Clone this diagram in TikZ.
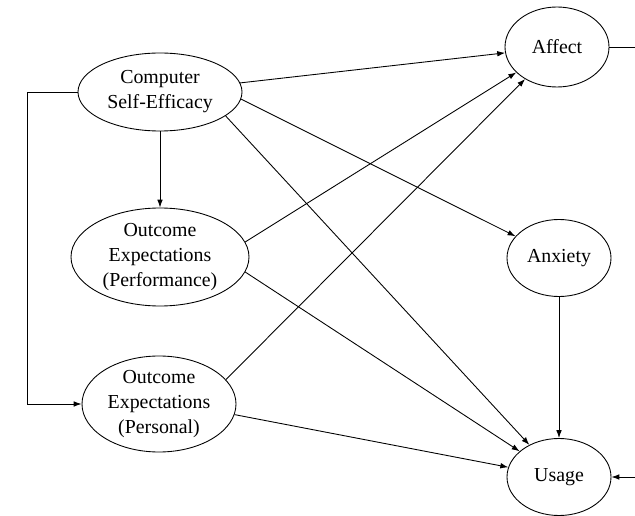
\documentclass[tikz,border=0pt]{standalone}
\usepackage{fontspec}
\setmainfont{Liberation Serif}
\usetikzlibrary{shapes.geometric,arrows.meta}
\begin{document}
\begin{tikzpicture}
                        [line width=0.5pt,
                        >={Latex[length=4.5pt,width=3.2pt]},
                        var/.style = {ellipse, draw, inner sep=0pt,
                                    align=center,
                                    font=\fontsize{11.3}{14.2}\selectfont}]
                        \useasboundingbox (0,0) rectangle (12.7,10.3);
                        \node[var,minimum width=3.28cm,minimum height=1.56cm] (CSE) at (3.2,8.46) {Computer\\Self-Efficacy};
                        \node[var,minimum width=3.56cm,minimum height=1.96cm] (Perf) at (3.2,5.16) {Outcome\\Expectations\\(Performance)};
                        \node[var,minimum width=3.08cm,minimum height=1.92cm] (Pers) at (3.18,2.22) {Outcome\\Expectations\\(Personal)};
                        \node[var,minimum width=2.08cm,minimum height=1.6cm] (Affect) at (11.14,9.36) {Affect};
                        \node[var,minimum width=2.08cm,minimum height=1.54cm] (Anxiety) at (11.18,5.14) {Anxiety};
                        \node[var,minimum width=2.08cm,minimum height=1.54cm] (Usage) at (11.18,0.76) {Usage};
                        \coordinate (bend) at (0.54,0);
                        \coordinate (AffOut) at (12.7,9.36);
                        \coordinate (UseIn) at (12.7,0.76);
                        \draw[->] (CSE) -- (Affect);
                        \draw[->] (CSE) -- (Perf);
                        \draw[->] (CSE.-5) -- (Anxiety);
                        \draw[->] (CSE.-20) -- (Usage);
                        \draw[->] (Perf.10) -- (Affect);
                        \draw[->] (Perf.-10) -- (Usage);
                        \draw[->] (Pers.20) -- (Affect);
                        \draw[->] (Pers.-8) -- (Usage);
                        \draw[->] (Anxiety) -- (Usage);
                        \draw[->] (CSE.west) -| (bend |- Pers.west) -- (Pers.west);
                        \draw (Affect.east) -- (AffOut);
                        \draw[->] (UseIn) -- (Usage.east);
                    \end{tikzpicture}
\end{document}
